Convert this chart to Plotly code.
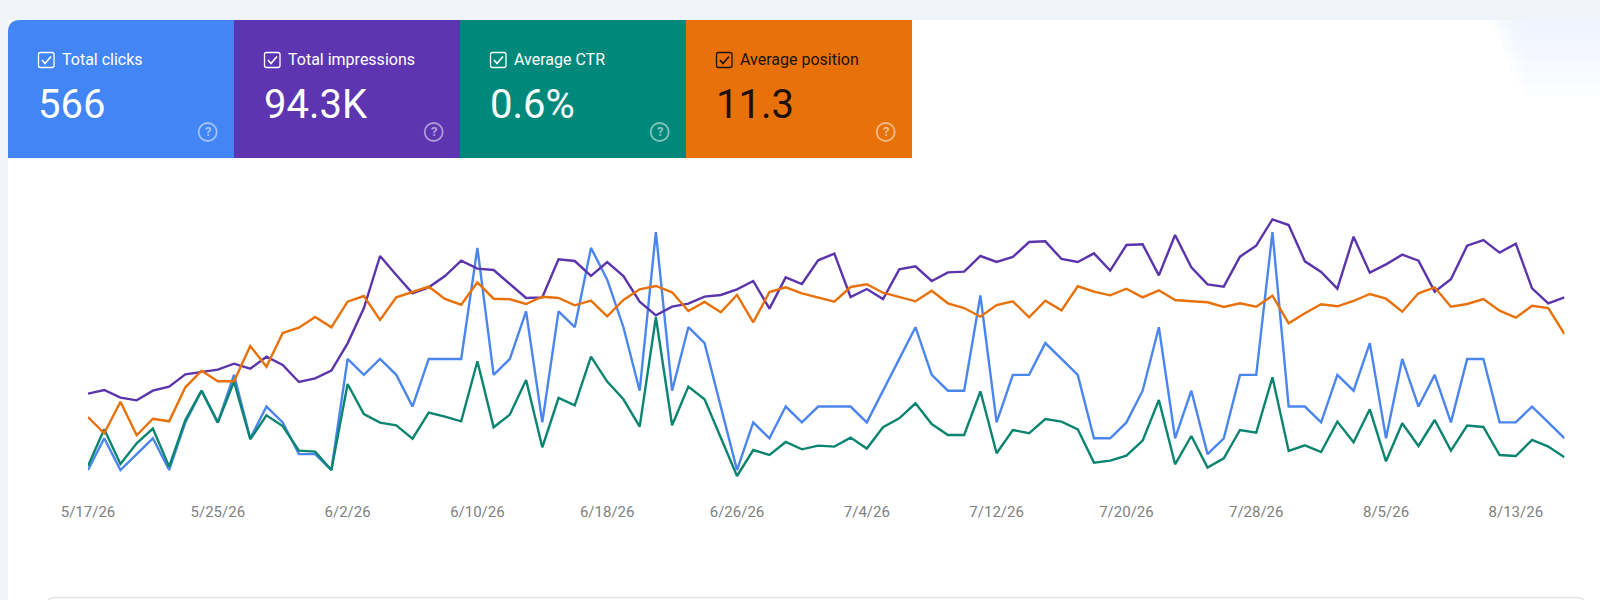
import pandas as pd
import plotly.graph_objects as go

WIDTH = 1600
HEIGHT = 600

dates = pd.date_range("2026-05-17", periods=92)

tick_labels = ["5/17/26", "5/25/26", "6/2/26", "6/10/26", "6/18/26", "6/26/26",
               "7/4/26", "7/12/26", "7/20/26", "7/28/26", "8/5/26", "8/13/26"]

clicks = [0, 2, 0, 1, 2, 0, 3, 5, 3, 6,
          2, 4, 3, 1, 1, 0, 7, 6, 7, 6,
          4, 7, 7, 7, 14, 6, 7, 10, 3, 10,
          9, 14, 12, 9, 5, 15, 5, 9, 8, 4,
          0, 3, 2, 4, 3, 4, 4, 4, 3, 5,
          7, 9, 6, 5, 5, 11, 3, 6, 6, 8,
          7, 6, 2, 2, 3, 5, 9, 2, 5, 1,
          2, 6, 6, 15, 4, 4, 3, 6, 5, 8,
          2, 7, 4, 6, 3, 7, 7, 3, 3, 4,
          3, 2]

impressions = [458, 480, 434, 418, 476, 500, 574, 590, 602, 638,
               608, 680, 630, 528, 550, 596, 760, 970, 1284, 1170,
               1060, 1096, 1164, 1256, 1208, 1200, 1116, 1032, 1036, 1264,
               1254, 1164, 1248, 1164, 1010, 928, 980, 998, 1040, 1050,
               1084, 1134, 968, 1156, 1116, 1258, 1298, 1038, 1086, 1026,
               1204, 1222, 1134, 1186, 1190, 1284, 1248, 1278, 1368, 1372,
               1266, 1248, 1300, 1196, 1350, 1354, 1168, 1410, 1216, 1114,
               1100, 1280, 1346, 1504, 1470, 1252, 1188, 1088, 1400, 1184,
               1234, 1292, 1256, 1070, 1144, 1346, 1380, 1304, 1358, 1090,
               1000, 1036]

ctr = [0.173, 0.54, 0.193, 0.40, 0.547, 0.167, 0.633, 0.927, 0.607, 1.017,
       0.44, 0.68, 0.573, 0.327, 0.317, 0.133, 0.993, 0.693, 0.607, 0.58,
       0.447, 0.707, 0.667, 0.62, 1.22, 0.56, 0.687, 1.033, 0.36, 0.853,
       0.78, 1.267, 1.017, 0.84, 0.567, 1.66, 0.58, 0.967, 0.84, 0.457,
       0.073, 0.333, 0.283, 0.413, 0.34, 0.377, 0.367, 0.457, 0.347, 0.56,
       0.65, 0.80, 0.593, 0.483, 0.483, 0.92, 0.30, 0.533, 0.50, 0.643,
       0.617, 0.54, 0.207, 0.227, 0.277, 0.427, 0.833, 0.19, 0.473, 0.157,
       0.25, 0.533, 0.507, 1.06, 0.323, 0.38, 0.313, 0.617, 0.41, 0.74,
       0.22, 0.60, 0.373, 0.633, 0.327, 0.577, 0.563, 0.283, 0.273, 0.433,
       0.367, 0.26]

position = [21.7, 23.33, 20.17, 23.53, 21.87, 22.13, 18.73, 17.07, 18.13, 18.13,
            14.6, 16.67, 13.3, 12.77, 11.7, 12.73, 10.17, 9.6, 12.0, 9.73,
            9.2, 8.67, 9.9, 10.47, 8.23, 9.87, 9.93, 10.4, 9.67, 9.8,
            10.53, 10.07, 11.63, 10.0, 8.93, 8.6, 9.23, 11.1, 10.2, 11.23,
            9.5, 12.23, 9.2, 8.73, 9.33, 9.73, 10.17, 8.7, 8.43, 9.27,
            9.73, 10.13, 9.07, 10.33, 10.8, 11.67, 10.5, 10.13, 11.73, 10.07,
            11.03, 8.63, 9.17, 9.53, 8.87, 9.73, 9.03, 10.0, 10.13, 10.23,
            10.7, 10.33, 10.67, 9.57, 12.33, 11.33, 10.43, 10.63, 10.1, 9.4,
            9.87, 11.17, 9.33, 8.73, 10.67, 10.4, 9.9, 11.07, 11.77, 10.57,
            10.8, 13.4]

card_labels = ["Total clicks", "Total impressions", "Average CTR", "Average position"]
card_values = ["566", "94.3K", "0.6%", "11.3"]

BLUE = "#4285f4"
PURPLE = "#5e35b1"
TEAL = "#00897b"
ORANGE = "#e8710a"
PAGE_BG = "#f0f3f8"
FONT = "Roboto"


def px(x):
    return x / WIDTH


def py(y):
    return 1 - y / HEIGHT


def rect(x0, y0, x1, y1, color):
    return dict(type="rect", xref="paper", yref="paper", layer="below",
                x0=px(x0), y0=py(y0), x1=px(x1), y1=py(y1),
                fillcolor=color, line_width=0)


def path(points, color=None, line=None, width=1.5):
    # points are svg commands with page pixels, flipped to paper fractions here
    parts = []
    for cmd, *xy in points:
        coords = []
        for i in range(0, len(xy), 2):
            coords.append(f"{px(xy[i]):.5f},{py(xy[i + 1]):.5f}")
        parts.append(cmd + " ".join(coords))
    return dict(type="path", xref="paper", yref="paper", layer="above",
                path=" ".join(parts) + (" Z" if color else ""),
                fillcolor=color if color else "rgba(0,0,0,0)",
                line=dict(color=line if line else "rgba(0,0,0,0)", width=width))


def round_box(x0, y0, x1, y1, r):
    return [("M", x0 + r, y0), ("L", x1 - r, y0), ("Q", x1, y0, x1, y0 + r),
            ("L", x1, y1 - r), ("Q", x1, y1, x1 - r, y1), ("L", x0 + r, y1),
            ("Q", x0, y1, x0, y1 - r), ("L", x0, y0 + r), ("Q", x0, y0, x0 + r, y0)]


def text(x, y, s, size, color, anchor="left", opacity=1):
    return dict(x=px(x), y=py(y), xref="paper", yref="paper", text=s, showarrow=False,
                xanchor=anchor, yanchor="middle", opacity=opacity,
                font=dict(family=FONT, size=size, color=color))


def create_cards():
    shapes = []
    annotations = []
    colors = [BLUE, PURPLE, TEAL, ORANGE]
    inks = ["#ffffff", "#ffffff", "#ffffff", "#1d1206"]
    card_w = 226
    top = 20
    bottom = 158
    for i, label in enumerate(card_labels):
        x0 = 8 + i * card_w
        if i == 0:
            s = path([("M", x0, bottom), ("L", x0, top + 12), ("Q", x0, top, x0 + 12, top),
                      ("L", x0 + card_w, top), ("L", x0 + card_w, bottom)], color=colors[i])
            s["layer"] = "below"
            shapes.append(s)
        else:
            shapes.append(rect(x0, top, x0 + card_w, bottom, colors[i]))

        # checkbox
        shapes.append(path(round_box(x0 + 30.5, 52.5, x0 + 46, 67.5, 2), line=inks[i], width=1.3))
        shapes[-1]["path"] += " Z"
        shapes.append(path([("M", x0 + 34, 60), ("L", x0 + 37, 63.5), ("L", x0 + 43, 56.5)],
                           line=inks[i], width=1.7))

        annotations.append(text(x0 + 51.8, 60, label, 16, inks[i]))
        annotations.append(text(x0 + 28.3, 104, card_values[i], 40, inks[i]))

        # help icon
        cx = x0 + 199.7
        cy = 132
        shapes.append(dict(type="circle", xref="paper", yref="paper", layer="above",
                           x0=px(cx - 9), x1=px(cx + 9), y0=py(cy + 9), y1=py(cy - 9),
                           fillcolor="rgba(0,0,0,0)",
                           line=dict(color="rgba(255,255,255,0.5)", width=1.8)))
        annotations.append(text(cx, cy, "<b>?</b>", 13, "rgba(255,255,255,0.55)", anchor="center"))
    return shapes, annotations


def create_backdrop():
    shapes = [
        rect(0, 0, WIDTH, 20, PAGE_BG),
        rect(0, 0, 8, HEIGHT, PAGE_BG),
    ]
    # soft fade at the top right, stacked thin layers
    for left, bottom in [(1494, 30), (1498, 40), (1502, 50), (1506, 60), (1510, 72), (1516, 84), (1524, 96)]:
        shapes.append(rect(left, 20, WIDTH, bottom, "rgba(232,238,252,0.13)"))
    outline = path([("M", 47, 612), ("L", 47, 605), ("Q", 47, 597.5, 55, 597.5),
                    ("L", 1577, 597.5), ("Q", 1585, 597.5, 1585, 605), ("L", 1585, 612)],
                   line="#dfe2e6", width=1.5)
    outline["layer"] = "below"
    shapes.append(outline)
    return shapes


def create_line(values, color, axis, name):
    return go.Scatter(x=dates, y=values, mode="lines", name=name, yaxis=axis,
                      line=dict(color=color, width=2.4), cliponaxis=False)


fig = go.Figure()
fig.add_trace(create_line(position, ORANGE, "y4", "Average position"))
fig.add_trace(create_line(impressions, "#5a35ab", "y2", "Total impressions"))
fig.add_trace(create_line(clicks, "#4a86ee", "y", "Total clicks"))
fig.add_trace(create_line(ctr, "#0b8570", "y3", "Average CTR"))

card_shapes, card_text = create_cards()

y_domain = [py(500), py(200)]
hidden = dict(visible=False, domain=y_domain, fixedrange=True)

fig.update_layout(
    width=WIDTH,
    height=HEIGHT,
    margin=dict(l=0, r=0, t=0, b=0, autoexpand=False),
    paper_bgcolor="#ffffff",
    plot_bgcolor="rgba(0,0,0,0)",
    showlegend=False,
    shapes=create_backdrop() + card_shapes,
    annotations=card_text,
    xaxis=dict(
        domain=[px(88), px(1564.5)],
        range=[dates[0], dates[-1]],
        tickvals=list(dates[::8]),
        ticktext=tick_labels,
        anchor="free",
        position=py(496),
        showgrid=False,
        zeroline=False,
        showline=False,
        automargin=False,
        ticks="outside",
        ticklen=2,
        tickcolor="rgba(0,0,0,0)",
        tickfont=dict(family=FONT, size=15, color="#80807f"),
    ),
    yaxis=dict(range=[-1.89, 17.02], **hidden),
    yaxis2=dict(range=[-180, 1620], overlaying="y", **hidden),
    yaxis3=dict(range=[-0.167, 2.833], overlaying="y", **hidden),
    yaxis4=dict(range=[30, 0], overlaying="y", **hidden),
)

fig.write_html("out.html", config=dict(displayModeBar=False),
               post_script="document.body.style.margin='0';document.body.style.overflow='hidden';")
